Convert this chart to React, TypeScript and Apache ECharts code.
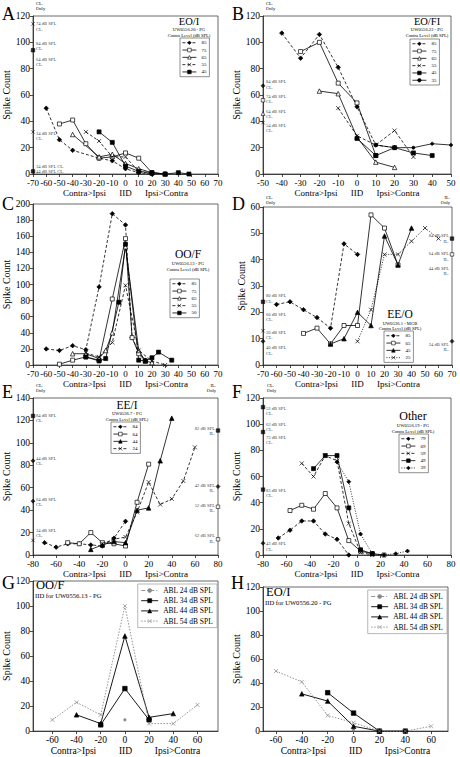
import React, { useEffect, useRef } from "react";
import * as echarts from "echarts";

const FONT = "Liberation Serif, DejaVu Serif, serif";
const X_MARK = "path://M0,0L10,10M10,0L0,10";

// ---------- Panel A: EO/I (UW0556.20) ----------
const A_LEVELS = ["85", "75", "65", "55", "45"];
const A_85 = [[-60, 50], [-50, 26], [-40, 18], [-20, 12], [-10, 10], [0, 4], [10, 1], [20, 0]];
const A_75 = [[-50, 38], [-40, 41], [-30, 23], [-20, 12], [-10, 13], [0, 16], [10, 12], [20, 1], [30, 0]];
const A_65 = [[-40, 30], [-20, 13], [-10, 15], [0, 8], [10, 4], [20, 1], [30, 0]];
const A_55 = [[-30, 32], [-20, 25], [-10, 13], [0, 13], [10, 2], [20, 0]];
const A_45 = [[-20, 32], [-10, 24], [0, 6], [10, 2], [20, 1], [30, 0], [40, 1], [48, 0]];
const A_CL_MARK = [114, 94, 32, 2];
const A_CL_MARK_SYM = ["x", "fsq", "x", "fsq"];
const A_CL_TEXT = ["74 dB SPL\nCL.", "84 dB SPL\nCL.", "64 dB SPL\nCL.", "34 dB SPL\nCL.", "34 dB SPL CL.", "44 dB SPL CL."];
const A_CL_TEXT_Y = [112, 97, 85, 29, 6, 2];

// ---------- Panel B: EO/FI (UW0556.22) ----------
const B_LEVELS = ["85", "75", "65", "55", "45", "35"];
const B_85 = [[-40, 107], [-30, 88], [-20, 106], [-10, 81], [0, 51], [10, 22], [20, 20]];
const B_75 = [[-30, 93], [-20, 100], [-10, 69], [0, 54], [10, 14]];
const B_65 = [[-20, 63], [-10, 61], [0, 28], [10, 9], [20, 5]];
const B_55 = [[-10, 50], [0, 29], [10, 22], [20, 33], [30, 13]];
const B_45 = [[0, 27], [10, 14], [20, 20], [30, 16], [40, 14]];
const B_35 = [[10, 22], [20, 20], [30, 20], [40, 23], [50, 22]];
const B_CL_MARK = [67, 56, 46, 39];
const B_CL_MARK_SYM = ["dia", "sq", "tri", "x"];
const B_CL_TEXT = ["84 dB SPL\nCL.", "74 dB SPL\nCL.", "64 dB SPL\nCL.", "54 dB SPL\nCL."];
const B_CL_TEXT_Y = [68, 57, 45.5, 35];

// ---------- Panel C: OO/F (UW0556.13) ----------
const C_LEVELS = ["85", "75", "65", "55", "50"];
const C_85 = [[-60, 20], [-50, 18], [-40, 24], [-30, 19], [-20, 97], [-10, 188], [0, 174], [5, 34], [10, 16], [15, 6]];
const C_75 = [[-50, 1], [-40, 6], [-30, 10], [-20, 6], [-10, 82], [0, 157], [5, 34], [10, 14], [15, 5]];
const C_65 = [[-40, 14], [-30, 14], [-20, 8], [-15, 18], [-10, 40], [0, 147], [10, 18], [15, 5], [20, 3]];
const C_55 = [[-30, 15], [-20, 10], [-10, 28], [0, 99], [10, 18], [20, 5], [30, 0]];
const C_50 = [[-30, 10], [-20, 5], [-15, 8], [-5, 78], [0, 150], [10, 6], [15, 5], [20, 9], [25, 16], [35, 6]];

// ---------- Panel D: EE/O (UW0536.1) ----------
const D_LEVELS = ["85", "65", "45", "25"];
const D_85 = [[-60, 23], [-50, 24], [-40, 21], [-30, 18], [-20, 14], [-10, 46], [0, 42]];
const D_65 = [[-40, 12], [-30, 14], [-20, 8], [-10, 15], [0, 15], [10, 57], [20, 52], [30, 38]];
const D_45 = [[-20, 8], [-10, 10], [0, 20], [10, 15], [20, 49], [30, 38], [40, 52]];
const D_25 = [[0, 9], [10, 21], [20, 42], [30, 42], [40, 47], [50, 52], [60, 48]];
const D_CL_MARK = [24, 13, 9];
const D_CL_MARK_SYM = ["fsq", "x", "dia"];
const D_CL_TEXT = ["80 dB SPL\nCL.", "60 dB SPL\nCL.", "20 dB SPL\nCL.", "40 dB SPL\nCL."];
const D_CL_TEXT_Y = [25.3, 18.2, 11.5, 5.5];
const D_IL_MARK = [48, 42, 9];
const D_IL_MARK_SYM = ["fsq", "sq", "dia"];
const D_IL_TEXT = ["84 dB SPL\nIL.", "64 dB SPL\nIL.", "44 dB SPL\nIL.", "24 dB SPL\nIL."];
const D_IL_TEXT_Y = [48, 41.2, 35.7, 6.8];

// ---------- Panel E: EE/I (UW0536.7) ----------
const E_LEVELS = ["84", "64", "44", "24"];
const E_84 = [[-70, 11], [-60, 7], [-50, 10], [-40, 10], [-30, 9], [-20, 8], [-10, 15], [0, 30]];
const E_64 = [[-50, 11], [-40, 10], [-30, 20], [-20, 11], [-10, 10], [0, 8], [10, 47], [20, 81]];
const E_44 = [[-30, 5], [-20, 9], [-10, 12], [0, 11], [10, 40], [20, 42], [30, 84], [40, 122]];
const E_24 = [[-20, 10], [-10, 14], [0, 16], [10, 38], [20, 65], [30, 45], [40, 50], [50, 66], [60, 96]];
const E_CL_MARK = [124, 84, 48, 13];
const E_CL_MARK_SYM = ["fsq", "dia", "dia", "x"];
const E_CL_TEXT = ["84 dB SPL\nCL.", "44 dB SPL\nCL.", "64 dB SPL\nCL.", "34 dB SPL\nCL."];
const E_CL_TEXT_Y = [122, 84, 47.4, 19.4];
const E_IL_MARK = [111, 61, 43, 14];
const E_IL_MARK_SYM = ["fsq", "dia", "sq", "sq"];
const E_IL_TEXT = ["82 dB SPL\nIL.", "42 dB SPL\nIL.", "52 dB SPL\nIL.", "62 dB SPL\nIL."];
const E_IL_TEXT_Y = [110.7, 59.6, 41.9, 14.6];

// ---------- Panel F: Other (UW0556.19) ----------
const F_LEVELS = ["79", "69", "59", "49", "39"];
const F_79 = [[-67, 13], [-57, 19], [-47, 26], [-37, 26], [-27, 16], [-17, 12], [-7, 0]];
const F_69 = [[-57, 34], [-47, 38], [-37, 35], [-27, 47], [-17, 36], [-7, 11], [3, 3], [13, 1], [23, 0]];
const F_59 = [[-47, 70], [-37, 60], [-27, 76], [-17, 72], [-7, 24], [3, 2], [13, 0]];
const F_49 = [[-37, 66], [-27, 76], [-17, 76], [-7, 36], [3, 4], [13, 1]];
const F_39 = [[-17, 71], [-7, 56], [3, 16], [13, 1], [23, 0], [33, 1], [43, 3]];
const F_CL_MARK = [113, 94, 50, 9];
const F_CL_MARK_SYM = ["fsq", "fsq", "fsq", "dia"];
const F_CL_TEXT = ["53 dB SPL\nCL.", "63 dB SPL\nCL.", "73 dB SPL\nCL.", "83 dB SPL\nCL.", "43 dB SPL\nCL."];
const F_CL_TEXT_Y = [110, 98, 88, 47.6, 6.4];

// ---------- Panel G: OO/F, IID for UW0556.13 ----------
const ABL = ["ABL 24 dB SPL", "ABL 34 dB SPL", "ABL 44 dB SPL", "ABL 54 dB SPL"];
const G_24 = [[0, 9]];
const G_34 = [[-20, 5], [0, 34], [20, 9]];
const G_44 = [[-40, 13], [-20, 6], [0, 76], [20, 11], [40, 14]];
const G_54 = [[-60, 9], [-40, 23], [-20, 13], [0, 100], [20, 6], [40, 6], [60, 21]];

// ---------- Panel H: EO/I, IID for UW0556.20 ----------
const H_24 = [[0, 1]];
const H_34 = [[-20, 32], [0, 15], [20, 0], [40, 0]];
const H_44 = [[-40, 31], [-20, 25], [0, 4], [20, 0]];
const H_54 = [[-60, 50], [-40, 41], [-20, 13], [0, 7], [20, 0], [40, 0], [60, 4]];

const IID_TICKS = [-60, -40, -20, 0, 20, 40, 60];

// ---------- styles ----------
type Sty = { sym: string; size: number; fill: string; stroke: string; dash: any; width: number };
const STY: Record<string, Sty> = {
  dashDia: { sym: "diamond", size: 4.5, fill: "#000", stroke: "#000", dash: [3, 2], width: 0.8 },
  openSq: { sym: "rect", size: 4, fill: "#fff", stroke: "#000", dash: "solid", width: 0.8 },
  openTri: { sym: "triangle", size: 4.5, fill: "#fff", stroke: "#000", dash: "solid", width: 0.8 },
  fillTri: { sym: "triangle", size: 4.5, fill: "#000", stroke: "#000", dash: "solid", width: 0.8 },
  dashX: { sym: X_MARK, size: 4, fill: "#000", stroke: "#000", dash: [3, 2], width: 0.8 },
  fillSq: { sym: "rect", size: 4, fill: "#000", stroke: "#000", dash: "solid", width: 0.8 },
  solidDot: { sym: "circle", size: 3, fill: "#000", stroke: "#000", dash: "solid", width: 0.8 },
  dotX: { sym: X_MARK, size: 4, fill: "#000", stroke: "#000", dash: [1, 1.5], width: 0.8 },
  dotDia: { sym: "diamond", size: 4, fill: "#000", stroke: "#000", dash: [1, 1.5], width: 0.8 },
  ablDash: { sym: "circle", size: 2.5, fill: "#888", stroke: "#888", dash: [4, 2, 1, 2], width: 0.8 },
  ablSq: { sym: "rect", size: 4.5, fill: "#000", stroke: "#000", dash: "solid", width: 0.9 },
  ablTri: { sym: "triangle", size: 4.5, fill: "#000", stroke: "#000", dash: "solid", width: 0.9 },
  ablDotX: { sym: X_MARK, size: 4, fill: "#888", stroke: "#888", dash: [1.5, 1.5], width: 0.9 },
};
const MARK_SYM: Record<string, { symbol: string; fill: string; size: number }> = {
  x: { symbol: X_MARK, fill: "#000", size: 3.5 },
  fsq: { symbol: "rect", fill: "#000", size: 3.5 },
  sq: { symbol: "rect", fill: "#fff", size: 3.5 },
  tri: { symbol: "triangle", fill: "#fff", size: 4 },
  dia: { symbol: "diamond", fill: "#000", size: 4 },
};

const GRIDS = [
  { left: 33, top: 16, width: 185, height: 158 },
  { left: 263, top: 16, width: 188, height: 158 },
  { left: 33, top: 204, width: 185, height: 161 },
  { left: 263, top: 207, width: 189, height: 158 },
  { left: 33, top: 398, width: 185, height: 157 },
  { left: 263, top: 398, width: 188, height: 157 },
  { left: 33, top: 581, width: 185, height: 152 },
  { left: 263, top: 587, width: 185, height: 146 },
];

function lineSeries(i: number, key: string, label: string, data: number[][], sk: string) {
  const s = STY[sk];
  return {
    type: "line",
    name: key + "|" + label,
    xAxisIndex: i,
    yAxisIndex: i,
    data,
    symbol: s.sym,
    symbolSize: s.size,
    showSymbol: true,
    showAllSymbol: true,
    color: s.stroke,
    lineStyle: { color: s.stroke, width: s.width, type: s.dash },
    itemStyle: { color: s.fill, borderColor: s.stroke, borderWidth: 0.7 },
    emphasis: { disabled: true },
    clip: false,
    z: 3,
  };
}

function markSeries(i: number, xv: number, ys: number[], syms: string[]) {
  return {
    type: "scatter",
    name: "marks" + i + "_" + xv,
    xAxisIndex: i,
    yAxisIndex: i,
    clip: false,
    silent: true,
    z: 4,
    data: ys.map((y, k) => {
      const m = MARK_SYM[syms[k]];
      return {
        value: [xv, y],
        symbol: m.symbol,
        symbolSize: m.size,
        itemStyle: { color: m.fill, borderColor: "#000", borderWidth: 0.7 },
      };
    }),
  };
}

function noteSeries(i: number, xv: number, ys: number[], texts: string[], side: "left" | "right") {
  return {
    type: "scatter",
    name: "notes" + i + "_" + xv,
    xAxisIndex: i,
    yAxisIndex: i,
    clip: false,
    silent: true,
    symbolSize: 0.1,
    itemStyle: { color: "rgba(0,0,0,0)" },
    z: 5,
    label: {
      show: true,
      position: side,
      distance: 3,
      fontSize: 4.6,
      lineHeight: 5.4,
      fontFamily: FONT,
      color: "#000",
      align: side === "left" ? "right" : "left",
    },
    data: ys.map((y, k) => ({ value: [xv, y], label: { formatter: texts[k] } })),
  };
}

const AXIS_LINE = { show: true, onZero: false, lineStyle: { color: "#222", width: 0.8 } };

function xAxis(i: number, min: number, max: number, interval: number | null, custom: number[] | null, big: boolean) {
  const w = big ? 80 : 58;
  const fs = big ? 9.5 : 9;
  const ax: any = {
    type: "value",
    gridIndex: i,
    min,
    max,
    axisLine: AXIS_LINE,
    axisTick: { show: true, length: 3, lineStyle: { color: "#222", width: 0.8 } },
    axisLabel: { fontSize: big ? 9.5 : 9, lineHeight: 8, fontFamily: FONT, color: "#000", margin: 5 },
    splitLine: { show: false },
    name: "{a|Contra>Ipsi}{b|IID}{c|Ipsi>Contra}",
    nameLocation: "middle",
    nameGap: 13,
    nameTextStyle: {
      fontSize: fs,
      fontFamily: FONT,
      color: "#000",
      rich: {
        a: { width: w, align: "center", fontSize: fs, fontFamily: FONT, lineHeight: 9 },
        b: { width: 24, align: "center", fontSize: fs, fontFamily: FONT, lineHeight: 9 },
        c: { width: w, align: "center", fontSize: fs, fontFamily: FONT, lineHeight: 9 },
      },
    },
  };
  if (interval != null) ax.interval = interval;
  if (custom) {
    ax.axisLabel.customValues = custom;
    ax.axisTick.customValues = custom;
  }
  return ax;
}

function yAxis(i: number, max: number, interval: number, gap: number) {
  return {
    type: "value",
    gridIndex: i,
    min: 0,
    max,
    interval,
    axisLine: AXIS_LINE,
    axisTick: { show: true, length: 3, lineStyle: { color: "#222", width: 0.8 } },
    axisLabel: { fontSize: 9.5, lineHeight: 7, fontFamily: FONT, color: "#000", margin: 3 },
    splitLine: { show: false },
    name: "Spike Count",
    nameLocation: "middle",
    nameGap: gap,
    nameTextStyle: { fontSize: 10, fontFamily: FONT, color: "#000" },
  };
}

function smallLegend(key: string, labels: string[], left: number, top: number) {
  return {
    orient: "vertical",
    left,
    top,
    data: labels.map((l) => key + "|" + l),
    formatter: (n: string) => n.split("|")[1],
    selectedMode: false,
    itemWidth: 14,
    itemHeight: 4.5,
    itemGap: 1.8,
    itemTextGap: 2,
    padding: [2, 3, 2, 2],
    borderColor: "#444",
    borderWidth: 0.6,
    itemStyle: { borderWidth: 0.6 },
    lineStyle: { width: 0.8 },
    textStyle: { fontSize: 5, lineHeight: 5.5, fontFamily: FONT, color: "#000" },
  };
}

function bigLegend(key: string, right: number, top: number) {
  return {
    orient: "vertical",
    right,
    top,
    data: ABL.map((l) => key + "|" + l),
    formatter: (n: string) => n.split("|")[1],
    selectedMode: false,
    itemWidth: 17,
    itemHeight: 5,
    itemGap: 1.2,
    itemTextGap: 3,
    padding: [2, 4, 2, 3],
    borderColor: "#999",
    borderWidth: 0.7,
    itemStyle: { borderWidth: 0.6 },
    lineStyle: { width: 0.9 },
    textStyle: { fontSize: 7.5, lineHeight: 9, fontFamily: FONT, color: "#000" },
  };
}

function txt(text: string, x: number, y: number, size: number, align: string, lh?: number) {
  return {
    type: "text",
    x,
    y,
    silent: true,
    style: {
      text,
      fontSize: size,
      fontFamily: FONT,
      fill: "#000",
      align,
      verticalAlign: "top",
      lineHeight: lh || size * 1.15,
    },
  };
}

function buildOption() {
  const grid = GRIDS.map((g) => ({ ...g, show: true, borderColor: "#444", borderWidth: 0.8, containLabel: false }));
  const xAxes = [
    xAxis(0, -70, 70, 10, null, false),
    xAxis(1, -50, 50, 10, null, false),
    xAxis(2, -70, 70, 10, null, false),
    xAxis(3, -70, 70, 10, null, false),
    xAxis(4, -80, 80, 20, null, false),
    xAxis(5, -80, 80, 20, null, false),
    xAxis(6, -76, 77, null, IID_TICKS, true),
    xAxis(7, -70, 73, null, IID_TICKS, true),
  ];
  const yAxes = [
    yAxis(0, 120, 20, 15),
    yAxis(1, 120, 20, 15),
    yAxis(2, 200, 20, 15),
    yAxis(3, 60, 10, 15),
    yAxis(4, 140, 20, 15),
    yAxis(5, 120, 20, 15),
    yAxis(6, 120, 20, 13),
    yAxis(7, 120, 20, 13),
  ];
  const series: any[] = [
    lineSeries(0, "A", "85", A_85, "dashDia"),
    lineSeries(0, "A", "75", A_75, "openSq"),
    lineSeries(0, "A", "65", A_65, "openTri"),
    lineSeries(0, "A", "55", A_55, "dashX"),
    lineSeries(0, "A", "45", A_45, "fillSq"),
    markSeries(0, -70, A_CL_MARK, A_CL_MARK_SYM),
    noteSeries(0, -70, A_CL_TEXT_Y, A_CL_TEXT, "right"),

    lineSeries(1, "B", "85", B_85, "dashDia"),
    lineSeries(1, "B", "75", B_75, "openSq"),
    lineSeries(1, "B", "65", B_65, "openTri"),
    lineSeries(1, "B", "55", B_55, "dashX"),
    lineSeries(1, "B", "45", B_45, "fillSq"),
    lineSeries(1, "B", "35", B_35, "solidDot"),
    markSeries(1, -50, B_CL_MARK, B_CL_MARK_SYM),
    noteSeries(1, -50, B_CL_TEXT_Y, B_CL_TEXT, "right"),

    lineSeries(2, "C", "85", C_85, "dashDia"),
    lineSeries(2, "C", "75", C_75, "openSq"),
    lineSeries(2, "C", "65", C_65, "openTri"),
    lineSeries(2, "C", "55", C_55, "dashX"),
    lineSeries(2, "C", "50", C_50, "fillSq"),

    lineSeries(3, "D", "85", D_85, "dashDia"),
    lineSeries(3, "D", "65", D_65, "openSq"),
    lineSeries(3, "D", "45", D_45, "fillTri"),
    lineSeries(3, "D", "25", D_25, "dotX"),
    markSeries(3, -70, D_CL_MARK, D_CL_MARK_SYM),
    noteSeries(3, -70, D_CL_TEXT_Y, D_CL_TEXT, "right"),
    markSeries(3, 70, D_IL_MARK, D_IL_MARK_SYM),
    noteSeries(3, 70, D_IL_TEXT_Y, D_IL_TEXT, "left"),

    lineSeries(4, "E", "84", E_84, "dashDia"),
    lineSeries(4, "E", "64", E_64, "openSq"),
    lineSeries(4, "E", "44", E_44, "fillTri"),
    lineSeries(4, "E", "24", E_24, "dashX"),
    markSeries(4, -80, E_CL_MARK, E_CL_MARK_SYM),
    noteSeries(4, -80, E_CL_TEXT_Y, E_CL_TEXT, "right"),
    markSeries(4, 80, E_IL_MARK, E_IL_MARK_SYM),
    noteSeries(4, 80, E_IL_TEXT_Y, E_IL_TEXT, "left"),

    lineSeries(5, "F", "79", F_79, "dashDia"),
    lineSeries(5, "F", "69", F_69, "openSq"),
    lineSeries(5, "F", "59", F_59, "dashX"),
    lineSeries(5, "F", "49", F_49, "fillSq"),
    lineSeries(5, "F", "39", F_39, "dotDia"),
    markSeries(5, -80, F_CL_MARK, F_CL_MARK_SYM),
    noteSeries(5, -80, F_CL_TEXT_Y, F_CL_TEXT, "right"),

    lineSeries(6, "G", ABL[0], G_24, "ablDash"),
    lineSeries(6, "G", ABL[1], G_34, "ablSq"),
    lineSeries(6, "G", ABL[2], G_44, "ablTri"),
    lineSeries(6, "G", ABL[3], G_54, "ablDotX"),

    lineSeries(7, "H", ABL[0], H_24, "ablDash"),
    lineSeries(7, "H", ABL[1], H_34, "ablSq"),
    lineSeries(7, "H", ABL[2], H_44, "ablTri"),
    lineSeries(7, "H", ABL[3], H_54, "ablDotX"),
  ];
  const legend = [
    smallLegend("A", A_LEVELS, 180, 38),
    smallLegend("B", B_LEVELS, 410, 39),
    smallLegend("C", C_LEVELS, 170, 279),
    smallLegend("D", D_LEVELS, 384, 331),
    smallLegend("E", E_LEVELS, 111, 422),
    smallLegend("F", F_LEVELS, 399, 434),
    bigLegend("G", 243, 584),
    bigLegend("H", 13, 590),
  ];
  const sub = (id: string) => id + "\nContra Level (dB SPL)";
  const graphic: any[] = [
    txt("A", 2, 5, 18, "left", 18),
    txt("B", 232, 5, 18, "left", 18),
    txt("C", 2, 195, 18, "left", 18),
    txt("D", 232, 195, 18, "left", 18),
    txt("E", 2, 383, 18, "left", 18),
    txt("F", 232, 383, 18, "left", 18),
    txt("G", 2, 574, 18, "left", 18),
    txt("H", 231, 574, 18, "left", 18),

    txt("EO/I", 189, 16, 10.5, "center", 10.5),
    txt(sub("UW0556.20 - PG"), 189, 27, 4.6, "center", 5.4),
    txt("EO/FI", 427, 16, 10.5, "center", 10.5),
    txt(sub("UW0556.22 - PG"), 427, 27, 4.6, "center", 5.4),
    txt("OO/F", 188, 248, 11.5, "center", 11.5),
    txt(sub("UW0556.13 - PG"), 188, 261, 4.6, "center", 5.4),
    txt("EE/O", 400, 308, 11.5, "center", 11.5),
    txt(sub("UW0536.1 - MGB"), 400, 320.5, 4.6, "center", 5.4),
    txt("EE/I", 127, 399, 11.5, "center", 11.5),
    txt(sub("UW0536.7 - PG"), 127, 411, 4.6, "center", 5.4),
    txt("Other", 413, 410, 12, "center", 12),
    txt(sub("UW0556.19 - PG"), 413, 423, 4.6, "center", 5.4),

    txt("OO/F", 36, 579, 12.5, "left", 12.5),
    txt("IID for UW0556.13 - PG", 35, 592, 6.6, "left"),
    txt("EO/I", 266, 586, 12.5, "left", 12.5),
    txt("IID for UW0556.20 - PG", 265, 599, 6.6, "left"),

    txt("CL.\nOnly", 36, 1, 4.6, "left", 5.2),
    txt("CL.\nOnly", 266, 1, 4.6, "left", 5.2),
    txt("CL.\nOnly", 266, 195, 4.6, "left", 5.2),
    txt("IL.\nOnly", 450, 195, 4.6, "right", 5.2),
    txt("CL.\nOnly", 36, 383, 4.6, "left", 5.2),
    txt("IL.\nOnly", 216, 383, 4.6, "right", 5.2),
    txt("CL.\nOnly", 267, 383, 4.6, "left", 5.2),
  ];
  return {
    animation: false,
    backgroundColor: "#fff",
    textStyle: { fontFamily: FONT },
    grid,
    xAxis: xAxes,
    yAxis: yAxes,
    legend,
    series,
    graphic,
  };
}

export default function App() {
  const ref = useRef<HTMLDivElement>(null);
  useEffect(() => {
    document.body.style.margin = "0";
    if (!ref.current) return;
    const chart = echarts.init(ref.current, undefined, { renderer: "svg" });
    chart.setOption(buildOption() as any);
    return () => chart.dispose();
  }, []);
  return (
    <div
      ref={ref}
      style={{ position: "absolute", left: 0, top: 0, width: 460, height: 757, background: "#fff" }}
    />
  );
}
